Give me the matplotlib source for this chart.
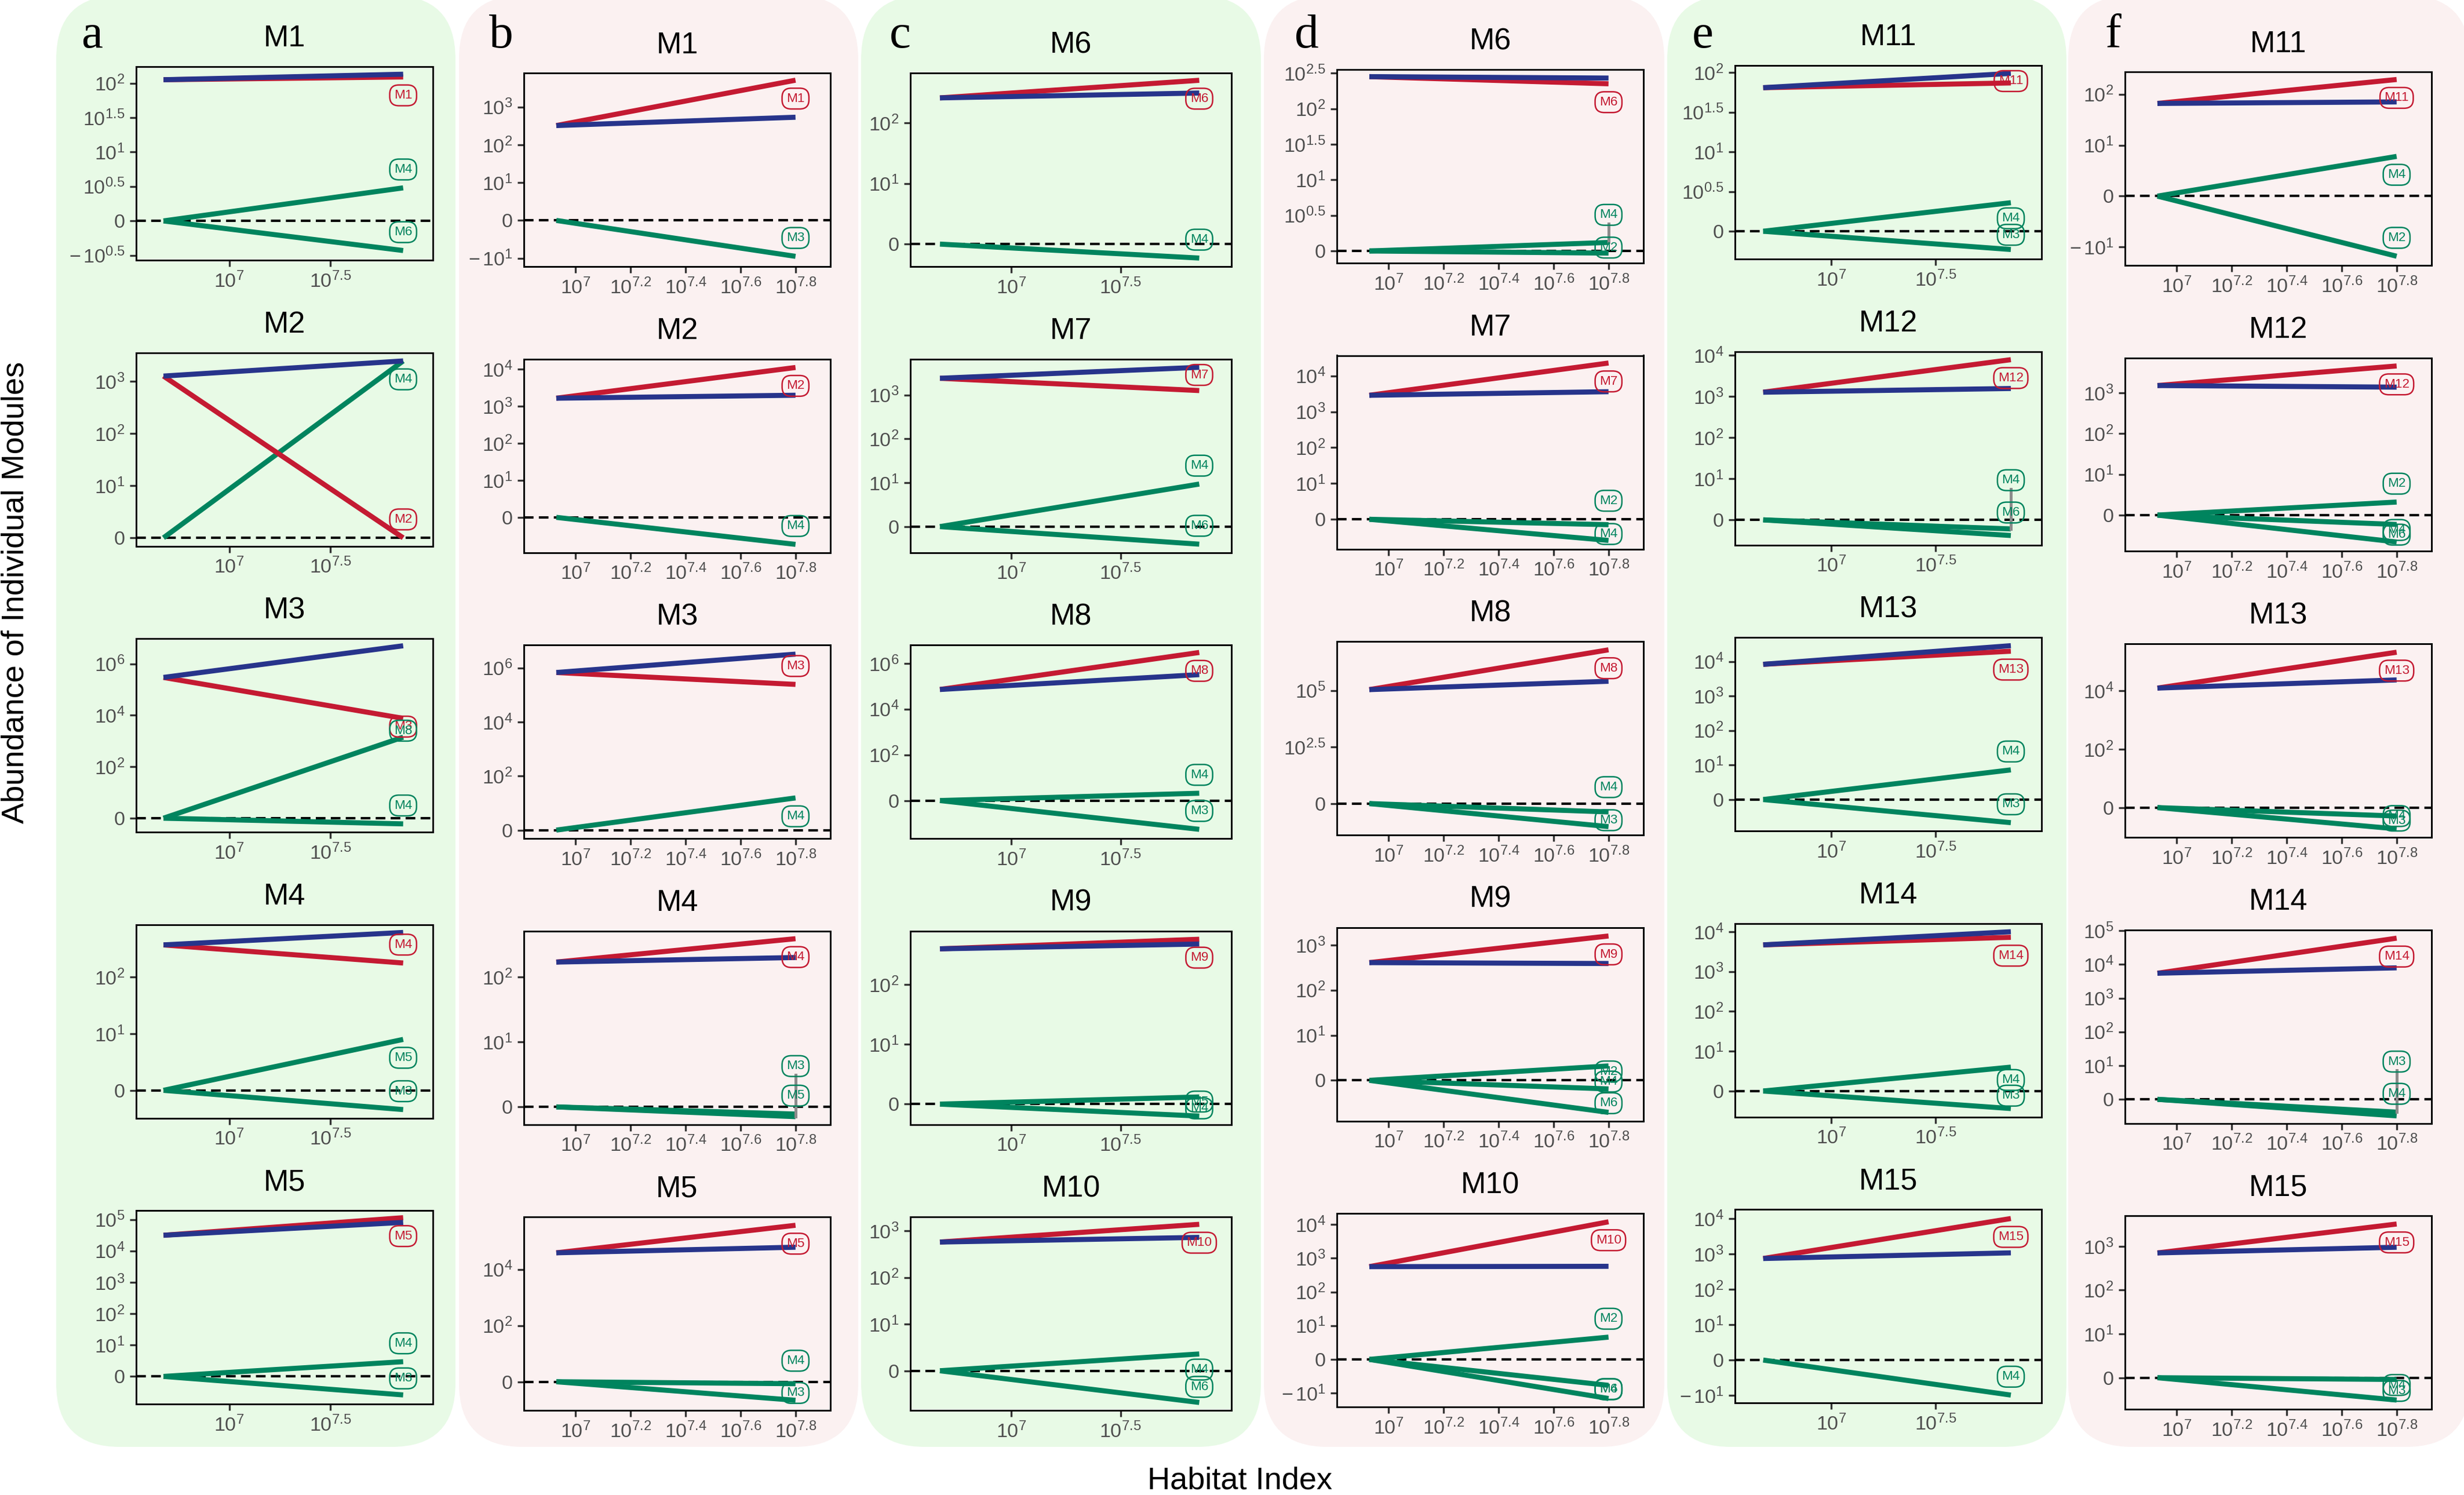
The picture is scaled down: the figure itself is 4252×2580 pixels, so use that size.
import numpy as np
import matplotlib
matplotlib.use('Agg')
import matplotlib.pyplot as plt
from matplotlib.patches import FancyBboxPatch

plt.rcParams['font.family'] = ['Liberation Sans', 'DejaVu Sans']
plt.rcParams['mathtext.fontset'] = 'custom'
plt.rcParams['mathtext.rm'] = 'Liberation Sans'
plt.rcParams['mathtext.it'] = 'Liberation Sans:italic'
plt.rcParams['mathtext.bf'] = 'Liberation Sans:bold'

W, H = 4252, 2580
DPI = 300

#%% DATA (x in log10 habitat index, y in pseudo-log units: k means 10^k)

letters = ['a', 'b', 'c', 'd', 'e', 'f']
titles = [['M1', 'M2', 'M3', 'M4', 'M5'],
          ['M1', 'M2', 'M3', 'M4', 'M5'],
          ['M6', 'M7', 'M8', 'M9', 'M10'],
          ['M6', 'M7', 'M8', 'M9', 'M10'],
          ['M11', 'M12', 'M13', 'M14', 'M15'],
          ['M11', 'M12', 'M13', 'M14', 'M15']]

x_start = [6.675, 6.93, 6.675, 6.93, 6.675, 6.93]
x_end = [7.86, 7.8, 7.86, 7.8, 7.86, 7.8]
x_ticks = [[7, 7.5], [7, 7.2, 7.4, 7.6, 7.8]] * 3

start_val = [[2.05, 3.10, 5.47, 2.57, 4.50],
             [2.51, 3.22, 5.83, 2.23, 4.59],
             [2.41, 3.38, 4.86, 2.60, 2.76],
             [2.45, 3.46, 5.04, 2.61, 2.75],
             [1.81, 3.10, 3.92, 3.67, 2.87],
             [1.82, 3.18, 4.10, 3.74, 2.85]]

red_end = [[2.09, 0.00, 3.88, 2.25, 5.06],
           [3.71, 4.05, 5.39, 2.59, 5.57],
           [2.70, 3.10, 6.48, 2.76, 3.14],
           [2.35, 4.36, 6.80, 3.20, 4.08],
           [1.87, 3.89, 4.30, 3.86, 4.00],
           [2.29, 3.66, 5.33, 4.78, 3.51]]

blue_end = [[2.13, 3.39, 6.70, 2.79, 4.91],
            [2.73, 3.30, 6.51, 2.30, 4.79],
            [2.49, 3.63, 5.51, 2.68, 2.86],
            [2.43, 3.56, 5.41, 2.59, 2.76],
            [1.99, 3.19, 4.46, 4.00, 3.03],
            [1.85, 3.14, 4.38, 3.90, 2.98]]

green_names = [[['M4', 'M6'], ['M4'], ['M8', 'M4'], ['M5', 'M3'], ['M4', 'M3']],
               [['M3'], ['M4'], ['M4'], ['M3', 'M5'], ['M4', 'M3']],
               [['M4'], ['M4', 'M6'], ['M4', 'M3'], ['M5', 'M4'], ['M4', 'M6']],
               [['M4', 'M2'], ['M2', 'M4'], ['M4', 'M3'], ['M2', 'M4', 'M6'], ['M2', 'M4', 'M6']],
               [['M4', 'M3'], ['M4', 'M6'], ['M4', 'M3'], ['M4', 'M3'], ['M4']],
               [['M4', 'M2'], ['M2', 'M4', 'M6'], ['M4', 'M3'], ['M3', 'M4'], ['M4', 'M3']]]

green_end = [[[0.48, -0.43], [3.39], [3.15, -0.22], [0.90, -0.34], [0.47, -0.59]],
             [[-0.95], [-0.73], [1.19], [-0.15, -0.11], [-0.07, -0.66]],
             [[-0.23], [0.97, -0.40], [0.32, -1.26], [0.12, -0.20], [0.36, -0.68]],
             [[0.12, -0.03], [-0.15, -0.59], [-0.37, -1.02], [0.32, -0.19, -0.71], [0.66, -0.77, -1.16]],
             [[0.36, -0.23], [-0.22, -0.38], [0.86, -0.67], [0.60, -0.44], [-0.99]],
             [[0.78, -1.18], [0.32, -0.23, -0.66], [-0.29, -0.73], [-0.38, -0.49], [-0.04, -0.51]]]

y_ticks = [[[-0.5, 0, 0.5, 1, 1.5, 2], [0, 1, 2, 3], [0, 2, 4, 6], [0, 1, 2], [0, 1, 2, 3, 4, 5]],
           [[-1, 0, 1, 2, 3], [0, 1, 2, 3, 4], [0, 2, 4, 6], [0, 1, 2], [0, 2, 4]],
           [[0, 1, 2], [0, 1, 2, 3], [0, 2, 4, 6], [0, 1, 2], [0, 1, 2, 3]],
           [[0, 0.5, 1, 1.5, 2, 2.5], [0, 1, 2, 3, 4], [0, 2.5, 5], [0, 1, 2, 3], [-1, 0, 1, 2, 3, 4]],
           [[0, 0.5, 1, 1.5, 2], [0, 1, 2, 3, 4], [0, 1, 2, 3, 4], [0, 1, 2, 3, 4], [-1, 0, 1, 2, 3, 4]],
           [[-1, 0, 1, 2], [0, 1, 2, 3], [0, 2, 4], [0, 1, 2, 3, 4, 5], [0, 1, 2, 3]]]

#%% LAYOUT

y_lims = [[(-0.57, 2.24), (-0.16, 3.55), (-0.54, 6.98), (-0.49, 2.93), (-0.88, 5.29)],
          [(-1.22, 3.90), (-0.95, 4.28), (-0.31, 6.85), (-0.27, 2.71), (-1.02, 5.87)],
          [(-0.37, 2.82), (-0.59, 3.82), (-1.66, 6.81), (-0.34, 2.90), (-0.85, 3.30)],
          [(-0.17, 2.55), (-0.83, 4.57), (-1.39, 7.17), (-0.90, 3.39), (-1.41, 4.33)],
          [(-0.35, 2.09), (-0.61, 4.09), (-0.91, 4.70), (-0.65, 4.21), (-1.21, 4.26)],
          [(-1.36, 2.44), (-0.89, 3.86), (-1.02, 5.62), (-0.71, 5.03), (-0.72, 3.70)]]

# label offsets (repel), red label first then green labels
label_nudge = [[[-1, 1, 1], [1, -1], [-0.45, 0.35, 1], [1, -1, 1], [-1, 1, 0.9]],
               [[-1, 1], [-1, 1], [1, -1], [-1, 2.75, 1], [-1, 1.25, 0.4]],
               [[-1, 1], [0.85, 1, 1], [-1, 1, 1], [-1, -0.25, 0.42], [-1, -0.85, 0.85]],
               [[-1, 1.5, 0.3], [-1, 1.3, 0.35], [-1, 1.35, 0.35], [-1, -0.3, 0.4, 0.5], [-1, 1, -0.2, 0.5]],
               [[0.1, -0.85, 0.8], [-1, 2.65, 1.25], [-1, 1, 1], [-1, -0.7, 0.7], [-1, 1]],
               [[-1, -1, 1], [-1, 1, -0.3, 0.4], [-1, 0, 0.45], [-1, 2.75, 1.2], [-1, -0.3, 0.5]]]

x_lims = [(6.54, 8.007), (6.812, 7.927)] * 3

ax_left = [235, 904, 1571, 2307, 2994, 3667]
ax_right = [747, 1433, 2125, 2836, 3523, 4196]
ax_top0 = [115, 126, 126, 120, 113, 124]
ax_h = 334
row_step = 493.5

bg_x = [(97, 786), (792, 1481), (1486, 2176), (2181, 2872), (2877, 3566), (3569, 4262)]
bg_col = ['#E8FAE6', '#FBF1F1'] * 3
letter_x = [159, 865, 1553, 2255, 2938, 3646]

RED = '#C41A32'
BLUE = '#27348B'
GREEN = '#00845E'


def ylab(v):
    if v == 0:
        return '0'
    s = '%g' % abs(v)
    if v < 0:
        return r'$-\,10^{%s}$' % s
    return r'$10^{%s}$' % s


def xlab(v):
    return r'$10^{%g}$' % v


#%% PLOT

fig = plt.figure(figsize=(W / DPI, H / DPI), dpi=DPI)

bg = fig.add_axes([0, 0, 1, 1], zorder=-1)
bg.set_xlim(0, W)
bg.set_ylim(H, 0)
bg.axis('off')
for j in range(6):
    x0, x1 = bg_x[j]
    bg.add_patch(FancyBboxPatch((x0, -8), x1 - x0, 2505, boxstyle='round,pad=0,rounding_size=110',
                                fc=bg_col[j], ec='none'))
    bg.text(letter_x[j], 62, letters[j], fontsize=20, family='Liberation Serif',
            ha='center', va='center')

for j in range(6):
    for i in range(5):
        top = ax_top0[j] + i * row_step
        ax = fig.add_axes([ax_left[j] / W, 1 - (top + ax_h) / H,
                           (ax_right[j] - ax_left[j]) / W, ax_h / H])
        ax.set_facecolor('none')
        lo, hi = y_lims[j][i]
        rng = hi - lo
        xs = [x_start[j], x_end[j]]

        ax.axhline(0, color='black', lw=1.0, ls=(0, (4, 2.2)), zorder=1)

        nud = label_nudge[j][i]
        for k, (nm, ye) in enumerate(zip(green_names[j][i], green_end[j][i])):
            ax.plot(xs, [0, ye], color=GREEN, lw=2.1, solid_capstyle='butt', zorder=2)
        ax.plot(xs, [start_val[j][i], red_end[j][i]], color=RED, lw=2.1, solid_capstyle='butt', zorder=3)
        ax.plot(xs, [start_val[j][i], blue_end[j][i]], color=BLUE, lw=2.1, solid_capstyle='butt', zorder=3)

        labs = [(titles[j][i], red_end[j][i], RED)]
        labs += [(nm, ye, GREEN) for nm, ye in zip(green_names[j][i], green_end[j][i])]
        for (nm, ye, c), nd in zip(labs, nud):
            ly = ye + nd * 0.095 * rng
            if abs(nd) >= 1.4:
                edge = ly - np.sign(nd) * 0.045 * rng
                ax.plot([x_end[j], x_end[j]], [ye, edge], color='#8C8C8C', lw=1.2, zorder=4)
            ax.text(x_end[j], ly, nm, ha='center', va='center', fontsize=5.4, color=c, zorder=5,
                    bbox=dict(boxstyle='round,pad=0.33,rounding_size=0.7', fc='none', ec=c, lw=0.6))

        ax.set_xlim(*x_lims[j])
        ax.set_ylim(lo, hi)
        ax.set_xticks(x_ticks[j])
        ax.set_xticklabels([xlab(v) for v in x_ticks[j]])
        ax.set_yticks(y_ticks[j][i])
        ax.set_yticklabels([ylab(v) for v in y_ticks[j][i]])
        ax.tick_params(direction='out', length=2.6, width=0.8, color='#333333',
                       labelcolor='#4D4D4D', labelsize=8.2, pad=2)
        for sp in ax.spines.values():
            sp.set_linewidth(0.7)
            sp.set_color('black')
        ax.text(0.5, 1 + 48 / ax_h, titles[j][i], transform=ax.transAxes, ha='center', va='center',
                fontsize=12.5)

fig.text(27 / W, 1 - 1022 / H, 'Abundance of Individual Modules', rotation=90,
         ha='center', va='center', fontsize=13)
fig.text(2139 / W, 1 - 2555 / H, 'Habitat Index', ha='center', va='center', fontsize=13)

fig.savefig('out.png', dpi=DPI, facecolor='white')
